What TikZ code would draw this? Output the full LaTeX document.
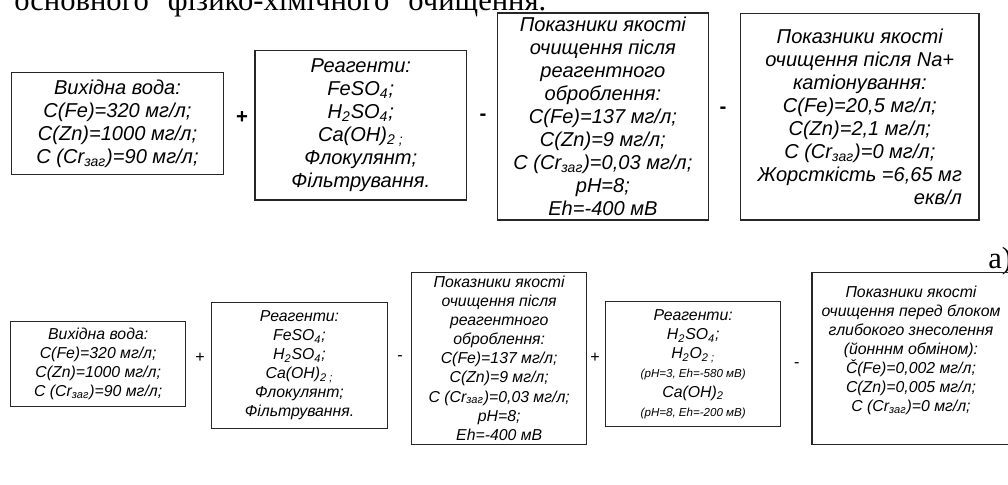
\documentclass[tikz,border=0pt]{standalone}
\usepackage{fontspec}
\setmainfont{Liberation Serif}
\setsansfont{Liberation Sans}
\usepackage{calc}
\usepackage{tikz}
\definecolor{boxline}{HTML}{262626}
\tikzset{
  wh/.style 2 args={minimum width=#1*0.5882pt, minimum height=#2*0.5882pt},
  stage/.style={draw=boxline, line width=0.75pt, align=center, inner sep=0pt,
    font=\sffamily\itshape\fontsize{11.8}{13.5}\selectfont},
  stagesm/.style={stage, font=\sffamily\itshape\fontsize{9.3}{11.2}\selectfont},
  op/.style={font=\sffamily\bfseries\fontsize{12}{14}\selectfont, inner sep=0pt},
  opsm/.style={font=\sffamily\fontsize{9.5}{12}\selectfont, inner sep=0pt},
  caption/.style={font=\fontsize{18}{21}\selectfont, inner sep=0pt},
}
\newcommand{\lo}[1]{\textsubscript{#1}}
\newcommand{\tinyln}[1]{{\fontsize{6.8}{8}\selectfont #1}}

\begin{document}
\begin{tikzpicture}[x=0.5882pt, y=-0.5882pt]
\useasboundingbox (0,0) rectangle (1008,485);
% caption line, cut off at the top edge
\node[caption, anchor=base west] (cap) at (14,10)
  {\makebox[312.9pt][s]{основного фізико-хімічного очищення.}};
\node[caption, anchor=base west] (taga) at (988,268) {а)};
% upper scheme
\node[stage, wh={211.6}{101.6}] (srcA) at (117.5,123.5)
  {Вихідна вода:\\C(Fe)=320 мг/л;\\C(Zn)=1000 мг/л;\\C (Cr\lo{заг})=90 мг/л;};
\node[stage, wh={211.7}{149.3}] (reagA) at (360.8,125.3)
  {Реагенти:\\FeSO\lo{4};\\H\lo{2}SO\lo{4};\\Ca(OH)\lo{2 ;}\\Флокулянт;\\Фільтрування.};
\node[stage, wh={210.8}{207}] (qualA) at (602.9,116.5)
  {Показники якості\\очищення після\\реагентного\\оброблення:\\C(Fe)=137 мг/л;\\C(Zn)=9 мг/л;\\C (Cr\lo{заг})=0,03 мг/л;\\pH=8;\\Eh=-400 мВ};
\node[stage, wh={238.3}{206.7}] (naA) at (859.8,116.7)
  {Показники якості\\очищення після Na+\\катіонування:\\C(Fe)=20,5 мг/л;\\C(Zn)=2,1 мг/л;\\C (Cr\lo{заг})=0 мг/л;\\Жорсткість =6,65 мг\\\makebox[\widthof{Жорсткість =6,65 мг}][r]{екв/л}};
\node[op] (p1) at (242,118) {+};
\node[op] (m1) at (483,117) {-};
\node[op] (m2) at (723,110) {-};
% lower scheme
\node[stagesm, wh={175}{85}] (srcB) at (98.2,364.2)
  {Вихідна вода:\\C(Fe)=320 мг/л;\\C(Zn)=1000 мг/л;\\C (Cr\lo{заг})=90 мг/л;};
\node[stagesm, wh={175.6}{125.6}] (reagB) at (299.5,365.5)
  {Реагенти:\\FeSO\lo{4};\\H\lo{2}SO\lo{4};\\Ca(OH)\lo{2 ;}\\Флокулянт;\\Фільтрування.};
\node[stagesm, wh={175}{172}] (qualB) at (499.2,358.3)
  {Показники якості\\очищення після\\реагентного\\оброблення:\\C(Fe)=137 мг/л;\\C(Zn)=9 мг/л;\\C (Cr\lo{заг})=0,03 мг/л;\\pH=8;\\Eh=-400 мВ};
\node[stagesm, wh={175}{125}] (oxB) at (693.2,364.2)
  {Реагенти:\\H\lo{2}SO\lo{4};\\H\lo{2}O\lo{2 ;}\\\tinyln{(pH=3, Eh=-580 мВ)}\\Ca(OH)\lo{2}\\\tinyln{(pH=8, Eh=-200 мВ)}};
\node[stagesm, wh={198}{172}] (deepB) at (911,358.3)
  {Показники якості\\очищення перед блоком\\глибокого знесолення\\ (йонннм обміном):\\Č(Fe)=0,002 мг/л;\\C(Zn)=0,005 мг/л;\\C (Cr\lo{заг})=0 мг/л;\\\mbox{}};
\node[opsm] (p2) at (200,358) {+};
\node[opsm] (m3) at (400,358) {-};
\node[opsm] (p3) at (595,358) {+};
\node[opsm] (m4) at (796.7,365) {-};
\end{tikzpicture}
\end{document}
